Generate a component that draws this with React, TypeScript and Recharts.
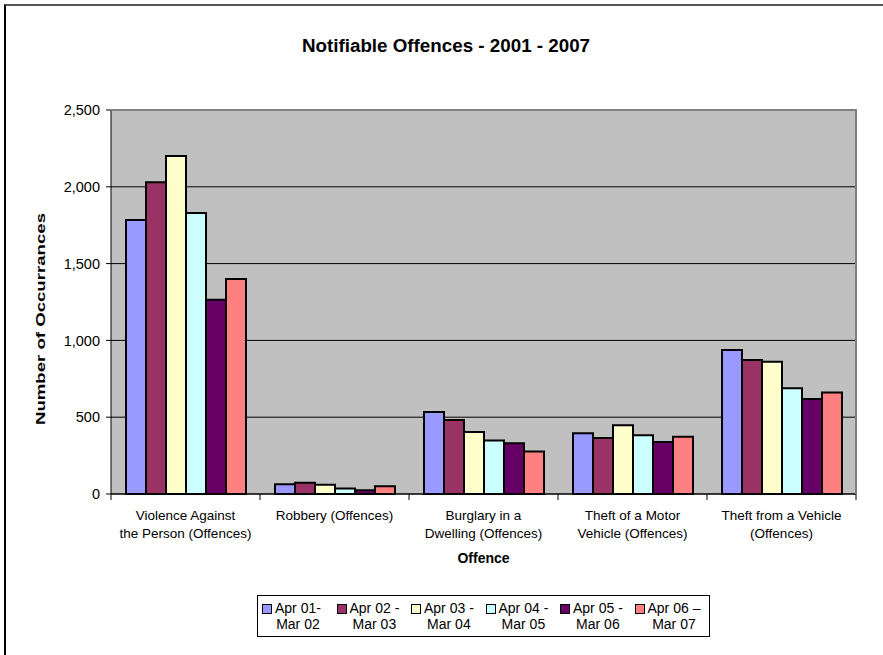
import { BarChart, Bar, XAxis, YAxis, CartesianGrid, Label } from 'recharts';

const categories = [
  ['Violence Against', 'the Person (Offences)'],
  ['Robbery (Offences)'],
  ['Burglary in a', 'Dwelling (Offences)'],
  ['Theft of a Motor', 'Vehicle (Offences)'],
  ['Theft from a Vehicle', '(Offences)'],
];

const seriesNames = [
  ['Apr 01-', 'Mar 02'],
  ['Apr 02 -', 'Mar 03'],
  ['Apr 03 -', 'Mar 04'],
  ['Apr 04 -', 'Mar 05'],
  ['Apr 05 -', 'Mar 06'],
  ['Apr 06 \u2013', 'Mar 07'],
];

const apr01 = [1784, 63, 534, 395, 937];
const apr02 = [2030, 74, 482, 365, 872];
const apr03 = [2200, 60, 404, 447, 861];
const apr04 = [1830, 35, 348, 382, 688];
const apr05 = [1265, 24, 330, 338, 618];
const apr06 = [1400, 50, 277, 373, 660];

const seriesValues = [apr01, apr02, apr03, apr04, apr05, apr06];
const colors = ['#9999FF', '#993366', '#FFFFCC', '#CCFFFF', '#660066', '#FF8080'];
const yTicks = [0, 500, 1000, 1500, 2000, 2500];

const data = categories.map((c, i) => {
  const row: Record<string, any> = { name: c.join(' ') };
  seriesValues.forEach((s, k) => { row['s' + k] = s[i]; });
  return row;
});

const font = '"Liberation Sans", Arial, sans-serif';
const BAND = 149;

function XTick(props: any) {
  const { x, y, payload, index } = props;
  const lines = categories[index] || [payload.value];
  return (
    <g>
      <line x1={x - BAND / 2} y1={y - 8} x2={x - BAND / 2} y2={y - 2} stroke="#000" />
      {index === categories.length - 1 && (
        <line x1={x + BAND / 2} y1={y - 8} x2={x + BAND / 2} y2={y - 2} stroke="#000" />
      )}
      {lines.map((l, i) => (
        <text key={i} x={x} y={y + 18 + i * 18} textAnchor="middle" fontSize={13.5} fontFamily={font} fill="#000">
          {l}
        </text>
      ))}
    </g>
  );
}

// rotated axis title, stretched along its length like the original
function YTitle() {
  const cx = 40;
  const cy = 319;
  return (
    <text
      x={cx}
      y={cy}
      transform={`rotate(-90 ${cx} ${cy})`}
      textAnchor="middle"
      dominantBaseline="central"
      fontSize={13.5}
      fontWeight="bold"
      fontFamily={font}
      fill="#000"
      textLength={212}
      lengthAdjust="spacingAndGlyphs"
    >
      Number of Occurrances
    </text>
  );
}

export default function App() {
  return (
    <div style={{ position: 'absolute', left: 0, top: 0, width: 883, height: 655, background: '#fff', fontFamily: font }}>
      <div style={{ position: 'absolute', left: 4, top: 4, width: 879, height: 651, borderLeft: '2px solid #000', borderTop: '2px solid #555' }} />
      <div style={{ position: 'absolute', left: 0, width: 892, top: 35, textAlign: 'center', fontSize: 18.8, fontWeight: 'bold', lineHeight: '22px' }}>
        Notifiable Offences - 2001 - 2007
      </div>
      <BarChart
        width={883}
        height={655}
        data={data}
        margin={{ top: 110, right: 27, bottom: 111, left: 51 }}
        barGap={0}
        barSize={20}
      >
        <CartesianGrid vertical={false} stroke="#000" fill="#C0C0C0" fillOpacity={1} />
        <XAxis
          dataKey="name"
          height={50}
          interval={0}
          tickLine={false}
          axisLine={{ stroke: '#000' }}
          tick={<XTick />}
          label={{ value: 'Offence', position: 'insideBottom', offset: -19, fontSize: 14, fontWeight: 'bold', fill: '#000', fontFamily: font }}
        />
        <YAxis
          width={60}
          domain={[0, 2500]}
          ticks={yTicks}
          interval={0}
          tickFormatter={(v: number) => v.toLocaleString('en-US')}
          tick={{ fontSize: 14.5, fill: '#000', fontFamily: font }}
          tickLine={{ stroke: '#000' }}
          tickSize={5}
          tickMargin={6}
          axisLine={{ stroke: '#000' }}
        >
          <Label content={<YTitle />} />
        </YAxis>
        {seriesValues.map((_, k) => (
          <Bar key={k} dataKey={'s' + k} fill={colors[k]} stroke="#000" strokeWidth={2} isAnimationActive={false} />
        ))}
      </BarChart>
      <div style={{ position: 'absolute', left: 111, top: 109, width: 746, height: 385, borderTop: '2px solid #808080', borderRight: '2px solid #808080', boxSizing: 'border-box', pointerEvents: 'none' }} />
      <div style={{ position: 'absolute', left: 257, top: 595, width: 453, height: 42, border: '1px solid #000', boxSizing: 'border-box', display: 'flex', paddingLeft: 4, paddingTop: 4 }}>
        {seriesNames.map((n, k) => (
          <div key={k} style={{ width: 75, display: 'flex', alignItems: 'flex-start', fontSize: 14, lineHeight: '16px' }}>
            <span style={{ width: 8, height: 8, border: '1px solid #000', background: colors[k], marginTop: 4, marginRight: 3, flexShrink: 0 }} />
            <span style={{ textAlign: 'center', whiteSpace: 'nowrap' }}>
              {n[0]}
              <br />
              {n[1]}
            </span>
          </div>
        ))}
      </div>
    </div>
  );
}
